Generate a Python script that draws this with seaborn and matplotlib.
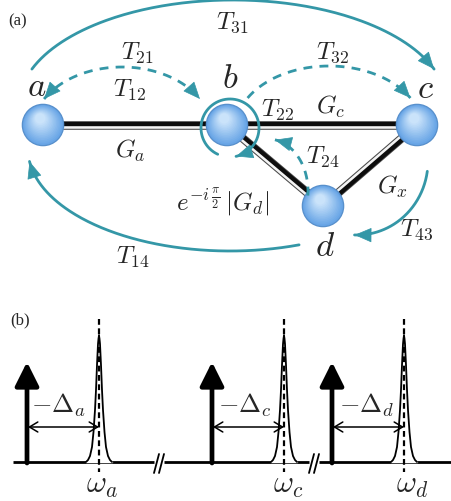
import numpy as np
import matplotlib
matplotlib.use("Agg")
import matplotlib.pyplot as plt
import seaborn as sns
from matplotlib.patches import Circle, FancyArrowPatch

# ---- panel (a): nodes and couplings (pixel coordinates, y down) ----
node_names = ["a", "b", "c", "d"]
node_x = [43, 227, 417, 323]
node_y = [126, 126, 126, 207]
node_label_x = [37, 230, 425, 325]
node_label_y = [88, 79, 89, 247]

edges = [("a", "b"), ("b", "c"), ("b", "d"), ("c", "d")]

# transfer arcs as ellipse pieces: centre, radii, start/end angle (deg)
arc_names = ["T31", "T14", "T43", "T21", "T32", "T24", "T22"]
arc_cx = [233, 230, 357, 122, 329, 268, 230]
arc_cy = [106, 150, 162, 132, 131, 192, 129]
arc_rx = [214, 202, 71, 90, 94, 40, 29]
arc_ry = [105, 102, 74, 64, 64, 52, 29]
arc_t0 = [160, -70, -8, 150, 150, -5, 245]
arc_t1 = [20, -173, -92, 30, 30, 80, -78]
arc_dashed = [False, False, False, True, True, True, False]
arc_heads = ["end", "end", "end", "both", "end", "end", "end"]

labels_a = [r"$T_{31}$", r"$T_{21}$", r"$T_{12}$", r"$T_{32}$", r"$T_{22}$",
            r"$G_c$", r"$G_a$", r"$T_{24}$", r"$G_x$", r"$T_{43}$", r"$T_{14}$",
            r"$e^{-i\,\frac{\pi}{2}}\,|G_d|$"]
labels_a_x = [232, 137, 130, 333, 278, 331, 130, 323, 392, 417, 133, 223]
labels_a_y = [23, 53, 90, 53, 110, 107, 151, 157, 187, 230, 257, 202]

# ---- panel (b): spectrum ----
modes = ["a", "c", "d"]
pump_x = [27, 212, 332]
peak_x = [99, 284, 404]
break_x = [159, 314]
delta_label_x = [58, 245, 367]
omega_label_x = [102, 288, 412]
# resonance profile: offset (px) vs height (px)
peak_dx = [-13, -11, -9, -7, -5.5, -4, -3, -2, -1, 0, 1, 2, 3, 4, 5.5, 7, 9, 11, 13]
peak_h = [0, 2, 6, 15, 30, 52, 72, 97, 118, 127, 118, 97, 72, 52, 30, 15, 6, 2, 0]

base_y = 463
pump_top = 363
det_y = 428

teal = "#3497a7"

sns.set_style("white")
plt.rcParams["mathtext.fontset"] = "cm"
plt.rcParams["font.family"] = ["Liberation Serif", "DejaVu Serif"]

fig = plt.figure(figsize=(4.52, 5.02), dpi=100)
ax = fig.add_axes([0, 0, 1, 1])
ax.set_xlim(0, 452)
ax.set_ylim(502, 0)
ax.axis("off")

pos = {n: (x, y) for n, x, y in zip(node_names, node_x, node_y)}

# rods: dark upper side, light lower side
for n1, n2 in edges:
    (x1, y1), (x2, y2) = pos[n1], pos[n2]
    d = np.array([x2 - x1, y2 - y1], float)
    d /= np.hypot(*d)
    nrm = np.array([-d[1], d[0]])
    ax.plot([x1, x2], [y1, y2], color="#4a4a4a", lw=6.2, solid_capstyle="butt", zorder=2)
    ax.plot([x1 - nrm[0] * 1.4, x2 - nrm[0] * 1.4], [y1 - nrm[1] * 1.4, y2 - nrm[1] * 1.4],
            color="#0d0d0d", lw=3.0, solid_capstyle="butt", zorder=2)
    ax.plot([x1 + nrm[0] * 2.0, x2 + nrm[0] * 2.0], [y1 + nrm[1] * 2.0, y2 + nrm[1] * 2.0],
            color="#f4f4f4", lw=1.8, solid_capstyle="butt", zorder=2)

# shaded spheres
R = 20
c_out = np.array(matplotlib.colors.to_rgb("#68a5e6"))
c_in = np.array(matplotlib.colors.to_rgb("#d2e8fc"))
for x, y in zip(node_x, node_y):
    ax.add_patch(Circle((x, y), R + 0.6, color="#5890cc", zorder=3))
    nl = 14
    for i in range(nl):
        f = i / nl
        col = c_out * (1 - f) + c_in * f
        ax.add_patch(Circle((x - 0.15 * R * f, y - 0.35 * R * f), R * (1 - 0.8 * f),
                            color=col, lw=0, zorder=3))

for n, lx, ly in zip(node_names, node_label_x, node_label_y):
    ax.text(lx, ly, "$" + n + "$", fontsize=25, ha="center", va="center", zorder=5)


def arc_points(cx, cy, rx, ry, t0, t1):
    t = np.radians(np.linspace(t0, t1, 200))
    return cx + rx * np.cos(t), cy - ry * np.sin(t)


def head(xs, ys, at_end=True):
    if at_end:
        p0, p1 = (xs[-8], ys[-8]), (xs[-1], ys[-1])
    else:
        p0, p1 = (xs[7], ys[7]), (xs[0], ys[0])
    ax.add_patch(FancyArrowPatch(p0, p1, arrowstyle="-|>,head_length=0.75,head_width=0.32",
                                 mutation_scale=15, color=teal, lw=0.5,
                                 shrinkA=0, shrinkB=0, zorder=4))


for i in range(len(arc_names)):
    xs, ys = arc_points(arc_cx[i], arc_cy[i], arc_rx[i], arc_ry[i], arc_t0[i], arc_t1[i])
    if arc_dashed[i]:
        ax.plot(xs, ys, color=teal, lw=2.0, dashes=(3.2, 2.6), zorder=4)
    else:
        ax.plot(xs, ys, color=teal, lw=2.0, zorder=4)
    head(xs, ys, True)
    if arc_heads[i] == "both":
        head(xs, ys, False)

for s, lx, ly in zip(labels_a, labels_a_x, labels_a_y):
    ax.text(lx, ly, s, fontsize=18, ha="center", va="center", zorder=5)

ax.text(18, 21, "(a)", fontsize=12, ha="center", va="center")
ax.text(20, 320, "(b)", fontsize=12, ha="center", va="center")

# ---- panel (b) ----
gap = 5
xs_edges = [13] + [v for b in break_x for v in (b - gap, b + gap)] + [452]
for k in range(0, len(xs_edges), 2):
    ax.plot([xs_edges[k], xs_edges[k + 1]], [base_y, base_y], color="black", lw=2, zorder=2,
            solid_capstyle="butt")
for b in break_x:
    for off in (-2.5, 2.5):
        ax.plot([b + off - 2.5, b + off + 2.5], [base_y + 11, base_y - 8], color="black", lw=1.3)

for m, px, kx, dlx, olx in zip(modes, pump_x, peak_x, delta_label_x, omega_label_x):
    prof_x = [kx + v for v in peak_dx]
    prof_y = [base_y - v for v in peak_h]
    ax.fill_between(prof_x, prof_y, base_y, color="white", zorder=3)
    sns.lineplot(x=prof_x, y=prof_y, color="black", lw=1.3, sort=False, estimator=None,
                 ax=ax, zorder=3)
    ax.plot([kx, kx], [320, 473], color="black", lw=1.6, dashes=(2.6, 1.6), zorder=4)
    ax.add_patch(FancyArrowPatch((px, base_y + 1), (px, pump_top),
                                 arrowstyle="-|>,head_length=0.8,head_width=0.4",
                                 mutation_scale=18, color="black", lw=3.4,
                                 shrinkA=0, shrinkB=0, zorder=4))
    ax.add_patch(FancyArrowPatch((px + 1, det_y), (kx, det_y),
                                 arrowstyle="<->,head_length=0.5,head_width=0.3",
                                 mutation_scale=12, color="black", lw=1.1,
                                 shrinkA=0, shrinkB=0, zorder=4))
    ax.text(dlx, 405, r"$-\Delta_{%s}$" % m, fontsize=19, ha="center", va="center", zorder=5)
    ax.text(olx, 486, r"$\omega_{%s}$" % m, fontsize=22, ha="center", va="center", zorder=5)

fig.savefig("out.png", dpi=100)
